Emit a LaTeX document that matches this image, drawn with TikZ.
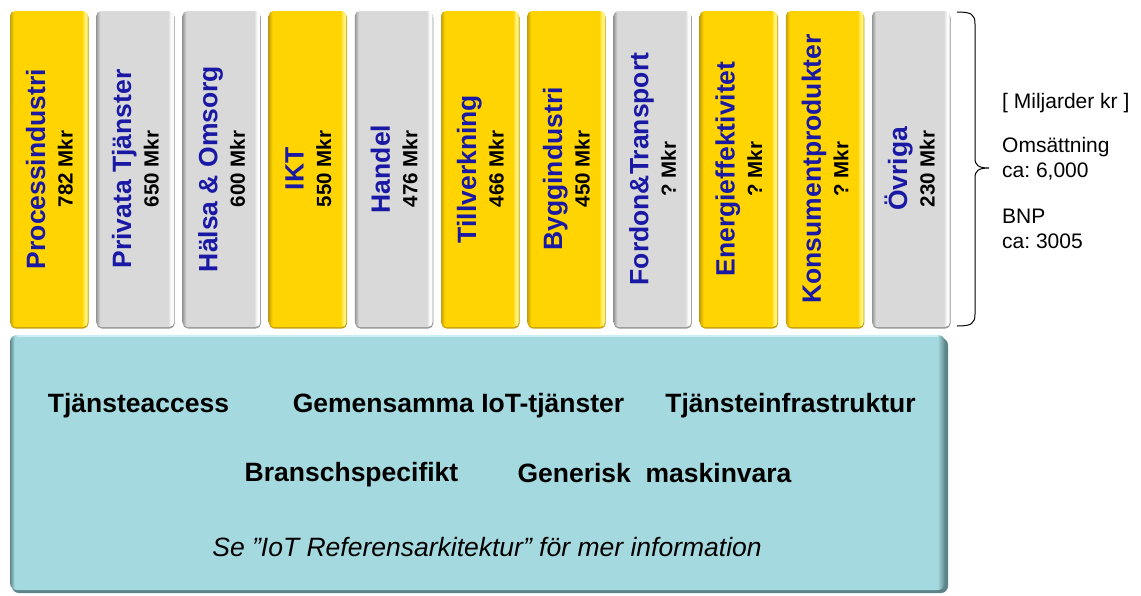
\documentclass[tikz,border=0pt]{standalone}
\usepackage{fontspec}
\setmainfont{Liberation Sans}
\frenchspacing
\definecolor{colY}{RGB}{255,212,0}
\definecolor{colYd}{RGB}{196,160,10}
\definecolor{colYl}{RGB}{255,242,120}
\definecolor{colG}{RGB}{217,217,217}
\definecolor{colGd}{RGB}{150,150,150}
\definecolor{colGl}{RGB}{252,252,252}
\definecolor{colT}{RGB}{164,218,223}
\definecolor{colTd}{RGB}{92,132,138}
\definecolor{colTl}{RGB}{200,240,245}
\definecolor{labblue}{RGB}{25,25,165}
\pgfdeclarehorizontalshading{ybevel}{100bp}{color(0bp)=(colYd); color(25bp)=(colYd); color(27.5bp)=(colY); color(71bp)=(colY); color(73bp)=(colYl); color(74.2bp)=(colYl); color(75bp)=(colYd); color(100bp)=(colYd)}
\pgfdeclarehorizontalshading{gbevel}{100bp}{color(0bp)=(colGd); color(25bp)=(colGd); color(27.5bp)=(colG); color(71bp)=(colG); color(73bp)=(colGl); color(74.2bp)=(colGl); color(75bp)=(colGd); color(100bp)=(colGd)}
\pgfdeclarehorizontalshading{tbevel}{100bp}{color(0bp)=(colTd); color(25bp)=(colTd); color(25.25bp)=(colT); color(74.6bp)=(colT); color(75bp)=(colTd); color(100bp)=(colTd)}
\begin{document}
\begin{tikzpicture}[x=1pt,y=-1pt,
  colboxY/.style={shade, shading=ybevel, rounded corners=5pt, minimum width=78pt, minimum height=316pt, inner sep=0pt},
  colboxG/.style={shade, shading=gbevel, rounded corners=5pt, minimum width=78pt, minimum height=316pt, inner sep=0pt},
  shadowY/.style={fill=colYd, rounded corners=5pt, minimum width=78pt, minimum height=316pt, inner sep=0pt},
  shadowG/.style={fill=colGd, rounded corners=5pt, minimum width=78pt, minimum height=316pt, inner sep=0pt},
  mainlab/.style={rotate=90, anchor=base, inner sep=0pt, text=labblue, font=\fontsize{26.5}{30}\selectfont\bfseries},
  vallab/.style={rotate=90, anchor=base, inner sep=0pt, text=black, font=\fontsize{20.5}{24}\selectfont\bfseries},
  boxtext/.style={anchor=base, inner sep=0pt, font=\fontsize{26.5}{30}\selectfont\bfseries},
  sidetext/.style={anchor=base west, inner sep=0pt, font=\fontsize{21}{24}\selectfont}
]
\useasboundingbox (0,0) rectangle (1141,595);
\fill[white] (0,0) rectangle (1141,595);

\foreach \i/\name/\val/\kind in {1/Processindustri/782/Y, 2/Privata Tjänster/650/G, 3/Hälsa \& Omsorg/600/G, 4/IKT/550/Y, 5/Handel/476/G, 6/Tillverkning/466/Y, 7/Byggindustri/450/Y, 8/Fordon\&Transport/?/G, 9/Energieffektivitet/?/Y, 10/Konsumentprodukter/?/Y, 11/Övriga/230/G}
{
  \pgfmathsetmacro\cx{49+86.2*(\i-1)}
  \node[shadow\kind] (s\i) at (\cx+0.5,170.5) {};
  \node[colbox\kind] (c\i) at (\cx,169) {};
  \node[mainlab] (l\i) at (\cx-4,169) {\name};
  \node[vallab] (v\i) at (\cx+23.5,169) {\val\ Mkr};
}

% bottom box
\fill[colTd, rounded corners=7pt] (12,338) rectangle (948,593);
\node[shade, shading=tbevel, rounded corners=7pt, minimum width=935pt, minimum height=255pt, inner sep=0pt] (base) at (477.5,462.5) {};
\draw[colTl, line width=1.5pt, line cap=round] (17,336) -- (938,336);

\node[boxtext] (t1) at (138.5,412) {Tjänsteaccess};
\node[boxtext] (t2) at (458.5,412) {Gemensamma IoT-tjänster};
\node[boxtext] (t3) at (790.5,412) {Tjänsteinfrastruktur};
\node[boxtext] (t4) at (351.5,481) {Branschspecifikt};
\node[boxtext] (t5) at (654.5,482) {Generisk\ \ maskinvara};
\node[anchor=base, inner sep=0pt, font=\fontsize{26.5}{30}\selectfont\itshape] (t6) at (487,556) {Se ”IoT Referensarkitektur” för mer information};

% brace
\draw[black, line width=1pt] (957,12) .. controls (971,12) and (975,14) .. (975,24) -- (975,158) .. controls (975,165) and (978,168) .. (989,168) .. controls (978,168) and (975,171) .. (975,178) -- (975,314) .. controls (975,324) and (971,326) .. (957,326);

\node[sidetext] (m1) at (1002,108) {[ Miljarder kr ]};
\node[sidetext] (m2) at (1002,152) {Omsättning};
\node[sidetext] (m3) at (1002,177) {ca: 6,000};
\node[sidetext] (m4) at (1002,223) {BNP};
\node[sidetext] (m5) at (1002,248) {ca: 3005};
\end{tikzpicture}
\end{document}
